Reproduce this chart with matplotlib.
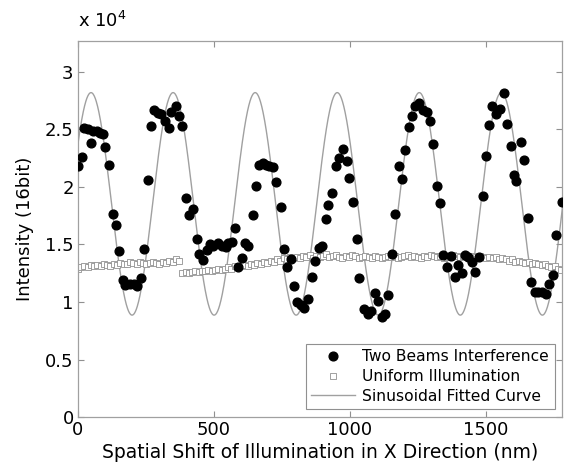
import numpy as np
import matplotlib
matplotlib.use('Agg')
import matplotlib.pyplot as plt

plt.rcParams['font.family'] = ['DejaVu Sans']

# two beams interference, x in nm, intensity in units of 1e4
beam_x = [1, 14, 23, 38, 50, 56, 69, 81, 91, 99, 115, 130, 140, 152, 167, 175, 191, 206, 219, 232,
          244, 256, 268, 281, 293, 305, 320, 335, 344, 359, 371, 383, 396, 408, 424, 436, 445,
          461, 473, 485, 497, 514, 528, 543, 553, 565, 577, 589, 602, 614, 626, 642, 653, 665, 679,
          691, 703, 718, 728, 745, 757, 770, 782, 794, 806, 819, 831, 847, 859, 871, 886, 898,
          911, 920, 933, 949, 961, 975, 988, 997, 1012, 1025, 1034, 1053, 1065, 1077, 1090, 1102,
          1116, 1129, 1139, 1156, 1165, 1180, 1192, 1202, 1218, 1229, 1239, 1254, 1270, 1282, 1294,
          1306, 1319, 1331, 1343, 1358, 1371, 1386, 1398, 1411, 1423, 1435, 1447, 1460, 1474, 1488,
          1500, 1512, 1523, 1537, 1551, 1564, 1578, 1592, 1603, 1610, 1629, 1640, 1653, 1665, 1678,
          1692, 1707, 1720, 1732, 1744, 1756, 1778]
beam_y = [2.18, 2.26, 2.51, 2.50, 2.385, 2.49, 2.49, 2.47, 2.46, 2.35, 2.19, 1.765, 1.67, 1.44, 1.19,
          1.15, 1.16, 1.16, 1.14, 1.21, 1.46, 2.06, 2.53, 2.67, 2.64, 2.63, 2.57, 2.51, 2.65, 2.70,
          2.62, 2.53, 1.90, 1.76, 1.81, 1.55, 1.42,
          1.365, 1.45, 1.50, 1.49, 1.51, 1.49, 1.48, 1.51, 1.52, 1.64, 1.30, 1.38, 1.51, 1.49, 1.76,
          2.01, 2.19, 2.21, 2.19, 2.18, 2.17, 2.04, 1.83, 1.46, 1.30, 1.37, 1.14, 1.00, 0.97, 0.945,
          1.03, 1.22, 1.356, 1.47, 1.49,
          1.72, 1.84, 1.945, 2.185, 2.25, 2.33, 2.226, 2.08, 1.87, 1.55, 1.21, 0.936, 0.895, 0.925,
          1.08, 1.01, 0.87, 0.90, 1.06, 1.42, 1.765, 2.18, 2.07, 2.32, 2.52, 2.62, 2.70, 2.73, 2.67,
          2.65, 2.57, 2.37, 2.01, 1.86, 1.41, 1.30, 1.40, 1.22, 1.32, 1.25, 1.41, 1.39, 1.345, 1.26,
          1.39, 1.925, 2.27, 2.54, 2.70, 2.63, 2.68, 2.82, 2.55, 2.36, 2.10, 2.055, 2.39, 2.235, 1.73,
          1.17, 1.09, 1.09, 1.09, 1.07, 1.16, 1.235, 1.58, 1.87]

# uniform illumination, scan step 12 nm
uni_x = np.arange(0, 1780, 12)
uni_y = [1.29, 1.30, 1.31, 1.30, 1.32, 1.31, 1.32, 1.31, 1.33, 1.32, 1.31, 1.33, 1.32, 1.34, 1.33, 1.33,
         1.35, 1.34, 1.33, 1.35, 1.34, 1.33, 1.34, 1.35, 1.34, 1.33, 1.35, 1.34, 1.36, 1.35, 1.37, 1.36,
         1.25, 1.26, 1.25, 1.26, 1.27, 1.26, 1.27, 1.27, 1.28, 1.27, 1.28, 1.29, 1.28, 1.29, 1.30, 1.29,
         1.31, 1.30, 1.31,
         1.32, 1.31, 1.33, 1.32, 1.34, 1.33, 1.35, 1.34, 1.36, 1.35, 1.37, 1.36, 1.38, 1.37, 1.39, 1.38,
         1.39, 1.38, 1.40, 1.39, 1.41, 1.38, 1.40, 1.39, 1.40, 1.42, 1.39, 1.40, 1.41, 1.39, 1.38, 1.40,
         1.39, 1.41, 1.40, 1.38,
         1.39, 1.40, 1.39, 1.38, 1.40, 1.39, 1.38, 1.39, 1.40, 1.39, 1.40, 1.38, 1.39, 1.40, 1.41, 1.39,
         1.40, 1.39, 1.38, 1.40,
         1.39, 1.41, 1.40, 1.39, 1.40, 1.38, 1.39, 1.40, 1.41, 1.40, 1.39, 1.40, 1.39, 1.38, 1.40, 1.39,
         1.40, 1.39, 1.38,
         1.39, 1.38, 1.39, 1.37, 1.38, 1.37, 1.36, 1.37, 1.35, 1.36, 1.35, 1.34, 1.35, 1.33, 1.34, 1.33,
         1.32, 1.33, 1.31, 1.30, 1.31, 1.29, 1.28]

# sinusoidal fit parameters
fit_offset = 1.853
fit_amp = 0.967
fit_period = 301.5
fit_peak = 48.5

fx = np.linspace(0, 1780, 1500)
fy = fit_offset + fit_amp * np.cos(2 * np.pi * (fx - fit_peak) / fit_period)

fig = plt.figure(figsize=(5.64, 4.75), dpi=100)
ax = fig.add_axes([0.138, 0.122, 0.859, 0.792])

ax.plot(fx, fy, color='#a0a0a0', lw=1.0, zorder=1, label='Sinusoidal Fitted Curve')
ax.plot(uni_x, uni_y, ls='none', marker='s', ms=4, mfc='white', mec='#909090', mew=0.6,
        zorder=2, label='Uniform Illumination')
ax.plot(beam_x, beam_y, ls='none', marker='o', ms=6.3, color='black', zorder=3,
        label='Two Beams Interference')

ax.set_xlim(0, 1780)
ax.set_ylim(0, 3.27)
ax.set_xticks([0, 500, 1000, 1500])
ax.set_yticks([0, 0.5, 1, 1.5, 2, 2.5, 3])
ax.set_yticklabels(['0', '0.5', '1', '1.5', '2', '2.5', '3'])
ax.tick_params(direction='in', top=True, right=True, length=4, color='#909090', labelsize=13,
               pad=3)
for s in ax.spines.values():
    s.set_color('#a0a0a0')
    s.set_linewidth(0.9)

ax.set_xlabel('Spatial Shift of Illumination in X Direction (nm)', fontsize=13.5, labelpad=3)
ax.set_ylabel('Intensity (16bit)', fontsize=13, labelpad=8)
ax.text(0.0, 1.025, r'x 10$^4$', transform=ax.transAxes, fontsize=13, ha='left', va='bottom')

h, l = ax.get_legend_handles_labels()
leg = ax.legend(h[::-1], l[::-1], loc='lower right', fontsize=11.2, fancybox=False,
                edgecolor='#909090', framealpha=1, borderaxespad=0.5, handlelength=2.8,
                labelspacing=0.3, borderpad=0.35, handletextpad=0.5)
leg.get_frame().set_linewidth(0.8)

fig.savefig('out.png', dpi=100)
